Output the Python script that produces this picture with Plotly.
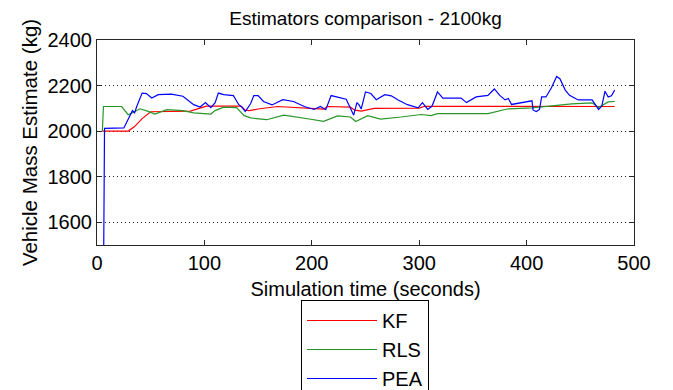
import plotly.graph_objects as go

# ---- data ----
kf_t = [5, 29, 35, 42, 50, 70, 87, 95, 102, 134, 138, 142, 150, 168, 202, 206, 211, 215,
        236, 240, 246, 258, 300, 305, 400, 482]
kf_v = [2000, 2000, 2020, 2055, 2085, 2086, 2088, 2100, 2110, 2110, 2092, 2090, 2097, 2108,
        2097, 2096, 2097, 2108, 2105, 2092, 2088, 2100, 2101, 2109, 2108, 2108]

rls_t = [5, 6, 23, 29, 35, 40, 47, 54, 65, 80, 90, 106, 110, 118, 130, 137, 143, 158, 174,
         187, 199, 211, 224, 236, 241, 252, 264, 283, 302, 311, 317, 364, 383, 405, 423,
         442, 461, 467, 476, 482]
rls_v = [2000, 2108, 2108, 2072, 2085, 2098, 2088, 2075, 2094, 2090, 2080, 2075, 2090, 2105,
         2103, 2068, 2058, 2050, 2070, 2062, 2052, 2043, 2067, 2062, 2042, 2068, 2053, 2062,
         2073, 2068, 2077, 2077, 2098, 2102, 2111, 2120, 2124, 2104, 2128, 2130]

pea_t = [6, 7, 25, 31, 33, 35, 37, 42, 46, 51, 57, 69, 80, 90, 96, 101, 106, 110, 113, 118,
         127, 132, 135, 138, 140, 143, 146, 150, 155, 163, 173, 183, 193, 202, 208, 213,
         218, 223, 232, 236, 239, 242, 244, 246, 250, 255, 260, 268, 274, 280, 289, 299,
         303, 308, 312, 317, 322, 339, 344, 353, 364, 370, 375, 380, 383, 386, 405, 406,
         409, 412, 414, 418, 423, 428, 431, 436, 440, 448, 461, 464, 467, 470, 473, 476,
         479, 482]
pea_v = [1300, 2012, 2014, 2073, 2090, 2080, 2108, 2167, 2165, 2145, 2160, 2162, 2153, 2116,
         2106, 2125, 2103, 2125, 2167, 2160, 2156, 2116, 2105, 2086, 2100, 2120, 2156, 2156,
         2130, 2115, 2138, 2130, 2108, 2095, 2108, 2094, 2156, 2150, 2140, 2100, 2070, 2125,
         2115, 2097, 2172, 2165, 2138, 2160, 2155, 2138, 2116, 2102, 2125, 2095, 2110, 2172,
         2145, 2145, 2125, 2150, 2157, 2185, 2157, 2137, 2143, 2117, 2133, 2093, 2086, 2095,
         2150, 2150, 2189, 2240, 2230, 2180, 2157, 2137, 2137, 2116, 2095, 2110, 2175, 2150,
         2155, 2180]

x_ticks = [0, 100, 200, 300, 400, 500]
y_ticks = [1600, 1800, 2000, 2200, 2400]

FONT = "Liberation Sans, Arial, sans-serif"

fig = go.Figure()
fig.add_trace(go.Scatter(x=kf_t, y=kf_v, mode="lines", name="KF",
                         line=dict(color="rgb(255,0,0)", width=1.2)))
fig.add_trace(go.Scatter(x=rls_t, y=rls_v, mode="lines", name="RLS",
                         line=dict(color="rgb(40,150,40)", width=1.2)))
fig.add_trace(go.Scatter(x=pea_t, y=pea_v, mode="lines", name="PEA",
                         line=dict(color="rgb(0,0,255)", width=1.2)))

axis_common = dict(showline=True, linecolor="#262626", linewidth=1, mirror="ticks",
                   ticks="inside", ticklen=5, tickcolor="#262626", zeroline=False,
                   automargin=False,
                   tickfont=dict(family=FONT, size=20, color="black"))

fig.update_xaxes(range=[0, 500], tickvals=x_ticks, showgrid=False,
                 title=dict(text="Simulation time (seconds)",
                            font=dict(family=FONT, size=20, color="black"), standoff=8),
                 **axis_common)
fig.update_yaxes(range=[1500, 2400], tickvals=y_ticks, showgrid=True,
                 gridcolor="#222222", griddash="1px,3px", gridwidth=1,
                 title=dict(text="Vehicle Mass Estimate (kg)",
                            font=dict(family=FONT, size=20.5, color="black"), standoff=4),
                 **axis_common)

fig.update_layout(
    width=673, height=390,
    margin=dict(l=97, r=39, t=40, b=145, autoexpand=False),
    paper_bgcolor="white", plot_bgcolor="white",
    title=dict(text="Estimators comparison - 2100kg", x=0.5, xref="paper",
               y=1 - 18 / 390, yanchor="middle",
               font=dict(family=FONT, size=19, color="black")),
    legend=dict(x=(301 - 97) / 537, y=(245 - 300) / 205,
                xanchor="left", yanchor="top",
                bordercolor="black", borderwidth=1, bgcolor="white",
                font=dict(family=FONT, size=20, color="black"),
                itemwidth=70, traceorder="normal"),
    showlegend=True,
)

fig.write_html("out.html")
